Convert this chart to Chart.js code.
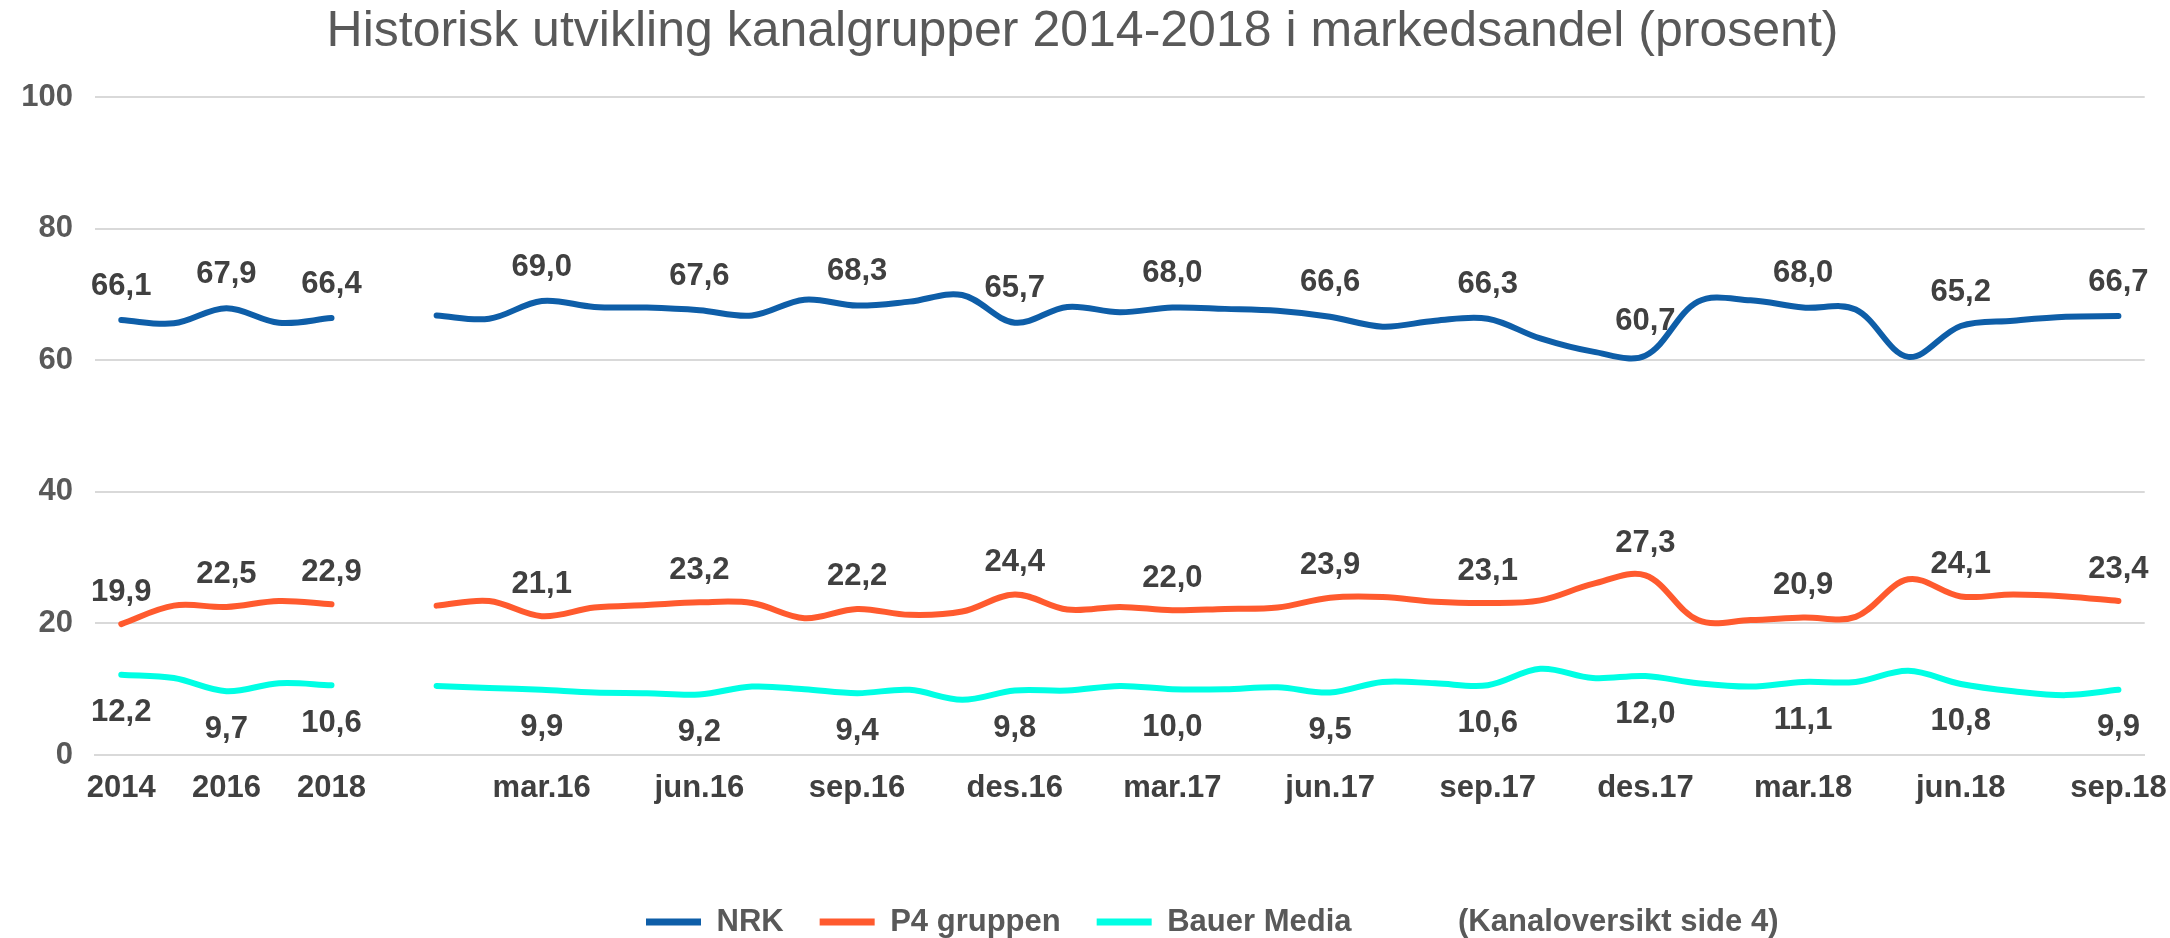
<!DOCTYPE html>
<html>
<head>
<meta charset="utf-8">
<title>Historisk utvikling kanalgrupper</title>
<script src="https://cdn.jsdelivr.net/npm/chart.js@4/dist/chart.umd.min.js"></script>
<style>
    html, body { margin: 0; padding: 0; background: #ffffff; }
    canvas { display: block; }
</style>
</head>
<body>
<canvas id="marketChart" width="2170" height="938"></canvas>
<script>
// Kategorier: år 2014-2018, ett tomt mellomrom, så måneder jan.16 - sep.18
const periods = [
    "2014", "2015", "2016", "2017", "2018", "",
    "jan.16", "feb.16", "mar.16", "apr.16", "mai.16", "jun.16", "jul.16", "aug.16", "sep.16", "okt.16", "nov.16", "des.16",
    "jan.17", "feb.17", "mar.17", "apr.17", "mai.17", "jun.17", "jul.17", "aug.17", "sep.17", "okt.17", "nov.17", "des.17",
    "jan.18", "feb.18", "mar.18", "apr.18", "mai.18", "jun.18", "jul.18", "aug.18", "sep.18"
];

// Kategorier som får aksetekst og dataetikett
const shownTicks = ["2014", "2016", "2018", "mar.16", "jun.16", "sep.16", "des.16",
    "mar.17", "jun.17", "sep.17", "des.17", "mar.18", "jun.18", "sep.18"];

const nrk = [
    66.1, 65.6, 67.9, 65.7, 66.4, null,
    66.8, 66.3, 69.0, 68.1, 68.0, 67.6, 66.8, 69.2, 68.3, 68.9, 69.9, 65.7,
    68.1, 67.3, 68.0, 67.8, 67.5, 66.6, 65.1, 66.0, 66.3, 63.3, 61.3, 60.7,
    68.9, 69.1, 68.0, 67.7, 60.5, 65.2, 66.0, 66.6, 66.7
];

const p4 = [
    19.9, 22.7, 22.5, 23.4, 22.9, null,
    22.7, 23.4, 21.1, 22.4, 22.8, 23.2, 23.1, 20.8, 22.2, 21.3, 21.8, 24.4,
    22.1, 22.5, 22.0, 22.2, 22.4, 23.9, 24.0, 23.3, 23.1, 23.5, 26.0, 27.3,
    20.5, 20.5, 20.9, 21.0, 26.7, 24.1, 24.4, 24.1, 23.4
];

const bauer = [
    12.2, 11.7, 9.7, 10.9, 10.6, null,
    10.5, 10.2, 9.9, 9.5, 9.4, 9.2, 10.4, 10.0, 9.4, 9.9, 8.4, 9.8,
    9.8, 10.5, 10.0, 10.0, 10.3, 9.5, 11.1, 10.9, 10.6, 13.1, 11.7, 12.0,
    10.9, 10.4, 11.1, 11.1, 12.8, 10.8, 9.7, 9.1, 9.9
];

const yTicks = [0, 20, 40, 60, 80, 100];

const FONT = "'Liberation Sans', Arial, sans-serif";
const colors = ["#0e5ea8", "#ff5a2e", "#00ffe4"];
const labelOffsets = [-34, -32, 38];

const ctx = document.getElementById("marketChart").getContext("2d");

const valueLabels = {
    id: "valueLabels",
    afterDatasetsDraw(chart) {
        const c = chart.ctx;
        c.save();
        c.font = "bold 31px " + FONT;
        c.fillStyle = "#404040";
        c.textAlign = "center";
        c.textBaseline = "middle";
        [0, 1, 2].forEach(d => {
            const meta = chart.getDatasetMeta(d);
            const values = chart.data.datasets[d].data;
            periods.forEach((p, i) => {
                if (!shownTicks.includes(p) || values[i] == null) return;
                const pt = meta.data[i];
                c.fillText(values[i].toFixed(1).replace(".", ","), pt.x, pt.y + labelOffsets[d]);
            });
        });
        c.restore();
    }
};

// flytter forklaringen dit den står i originalen
const legendPlace = {
    id: "legendPlace",
    afterLayout(chart) {
        const lg = chart.legend;
        lg.left = 610;
        lg.top += 9.5;
        lg.bottom += 9.5;
    }
};

const lineSet = (label, data, color) => ({
    label: label,
    data: data,
    borderColor: color,
    backgroundColor: color,
    borderWidth: 6,
    borderCapStyle: "round",
    borderJoinStyle: "round",
    pointRadius: 0,
    pointHoverRadius: 0,
    tension: 0.35,
    spanGaps: false,
    fill: false
});

new Chart(ctx, {
    type: "line",
    data: {
        labels: periods,
        datasets: [
            lineSet("NRK", nrk, colors[0]),
            lineSet("P4 gruppen", p4, colors[1]),
            lineSet("Bauer Media", bauer, colors[2]),
            lineSet("(Kanaloversikt side 4)", [], "rgba(0,0,0,0)")
        ]
    },
    options: {
        responsive: false,
        devicePixelRatio: 1,
        animation: false,
        layout: { padding: { left: 20, right: 25, top: 0, bottom: 0 } },
        plugins: {
            title: {
                display: true,
                text: "Historisk utvikling kanalgrupper 2014-2018 i markedsandel (prosent)",
                color: "#595959",
                font: { family: FONT, size: 50, weight: "normal" },
                padding: { top: 2, bottom: 35 }
            },
            legend: {
                display: true,
                position: "bottom",
                align: "start",
                labels: {
                    color: "#595959",
                    font: { family: FONT, size: 31, weight: "bold" },
                    boxWidth: 55,
                    boxHeight: 7,
                    padding: 36,
                    generateLabels: (chart) => chart.data.datasets.map((ds, i) => ({
                        text: ds.label,
                        fillStyle: ds.borderColor,
                        strokeStyle: ds.borderColor,
                        lineWidth: 0,
                        fontColor: "#595959",
                        datasetIndex: i
                    }))
                }
            },
            tooltip: { enabled: false }
        },
        scales: {
            x: {
                offset: true,
                grid: { display: true, color: "rgba(0,0,0,0)", drawTicks: true, tickLength: 12, tickColor: "rgba(0,0,0,0)" },
                border: { display: true, color: "#d9d9d9", width: 2 },
                ticks: {
                    autoSkip: false,
                    maxRotation: 0,
                    minRotation: 0,
                    padding: 3,
                    color: "#404040",
                    font: { family: FONT, size: 31, weight: "bold" },
                    callback: (v, i) => shownTicks.includes(periods[i]) ? periods[i] : ""
                },
                afterFit: (scale) => { scale.height = 106; }
            },
            y: {
                min: yTicks[0],
                max: yTicks[yTicks.length - 1],
                afterBuildTicks: (scale) => { scale.ticks = yTicks.map(v => ({ value: v })); },
                grid: { color: "#d9d9d9", lineWidth: 2, drawTicks: false },
                border: { display: false },
                ticks: {
                    padding: 22,
                    color: "#595959",
                    font: { family: FONT, size: 31, weight: "bold" }
                },
                afterFit: (scale) => { scale.width = 75; }
            }
        }
    },
    plugins: [valueLabels, legendPlace]
});
</script>
</body>
</html>
